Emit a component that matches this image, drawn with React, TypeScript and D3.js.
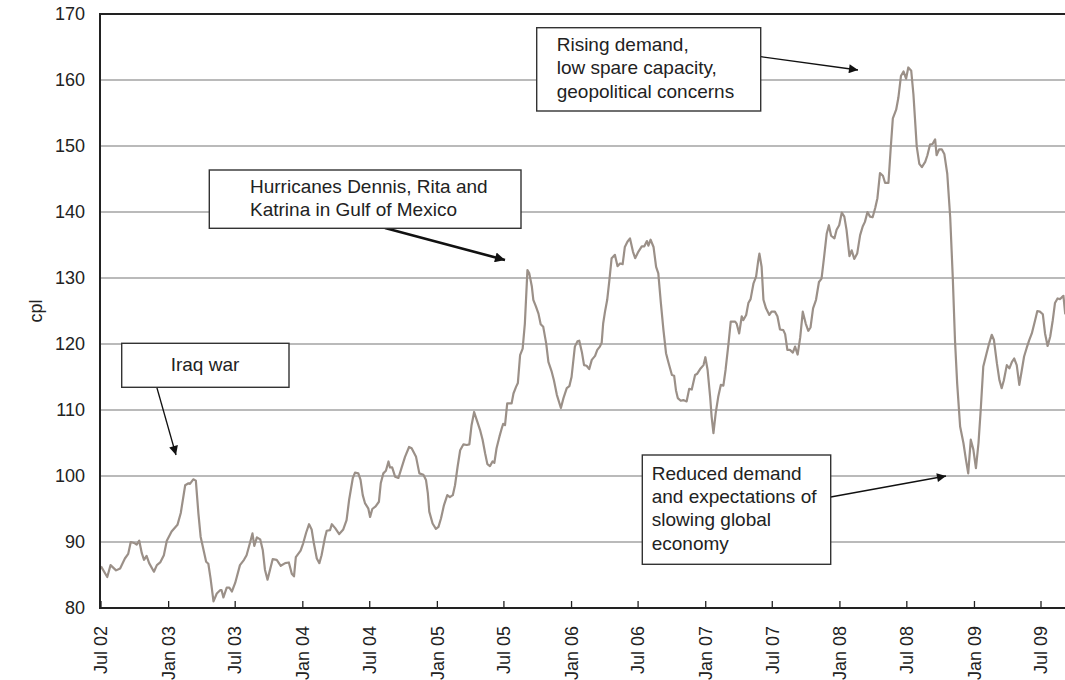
import React from "react";
import * as d3 from "d3";

// Weekly price series: [days since 1 Jul 2002, cents per litre]
const weeklyCpl: [number, number][] = [
  [0,86.3],[17,84.7],[26,86.5],[41,85.7],[52,86.0],[65,87.5],[74,88.2],[81,90.0],[92,89.8],[97,89.6],[104,90.2],[111,88.3],[117,87.3],[124,87.9],[131,86.8],[144,85.5],[152,86.5],[161,86.9],[171,88.0],[179,90.2],[192,91.6],[208,92.6],[217,94.4],[229,98.6],[238,98.9],[242,98.8],[251,99.5],[258,99.3],[265,94.3],[271,90.8],[286,87.0],[292,86.7],[298,84.5],[306,81.0],[315,82.2],[324,82.7],[328,82.7],[333,81.6],[342,83.1],[349,83.1],[356,82.5],[365,83.8],[378,86.5],[389,87.3],[396,88.0],[405,89.8],[412,91.3],[417,89.4],[424,90.7],[433,90.4],[440,88.8],[446,85.8],[453,84.3],[467,87.4],[478,87.3],[489,86.4],[501,86.8],[511,86.9],[519,85.2],[525,84.8],[530,87.7],[543,88.7],[550,89.8],[558,91.4],[566,92.7],[573,91.9],[579,89.8],[587,87.5],[594,86.8],[600,88.0],[609,90.6],[614,91.7],[623,91.8],[628,92.7],[637,92.1],[648,91.2],[659,91.9],[668,93.3],[675,96.4],[685,99.7],[691,100.5],[700,100.4],[706,99.4],[712,97.1],[718,95.9],[727,95.1],[732,93.8],[738,95.0],[747,95.4],[756,96.1],[761,98.9],[768,100.4],[775,100.8],[782,102.2],[786,101.3],[792,101.3],[800,99.9],[809,99.7],[818,101.3],[827,102.9],[838,104.4],[845,104.2],[857,102.9],[866,100.4],[877,100.2],[884,99.4],[889,97.4],[893,94.6],[902,92.8],[911,92.0],[918,92.3],[925,93.6],[933,95.6],[942,97.1],[949,96.8],[957,97.1],[963,98.6],[970,101.4],[977,103.9],[986,104.8],[995,104.7],[1002,104.8],[1008,107.7],[1015,109.7],[1022,108.5],[1031,107.0],[1038,105.5],[1045,103.4],[1051,101.8],[1058,101.5],[1065,102.2],[1070,102.0],[1076,104.2],[1084,106.0],[1090,107.2],[1094,107.9],[1099,107.7],[1105,111.0],[1117,111.0],[1122,112.5],[1129,113.5],[1134,114.1],[1140,118.3],[1147,119.3],[1153,123.1],[1160,131.2],[1165,130.7],[1172,128.7],[1176,126.7],[1183,125.7],[1190,124.6],[1196,123.0],[1203,122.6],[1211,120.1],[1217,117.3],[1226,115.8],[1232,114.5],[1240,112.3],[1251,110.3],[1258,111.8],[1267,113.3],[1274,113.6],[1280,115.0],[1289,119.6],[1296,120.4],[1301,120.5],[1308,118.8],[1314,116.8],[1321,116.7],[1328,116.2],[1335,117.6],[1344,118.2],[1350,119.1],[1357,119.6],[1362,120.2],[1366,123.1],[1371,124.9],[1377,126.7],[1383,129.7],[1389,133.0],[1398,133.5],[1405,131.8],[1412,132.2],[1419,132.1],[1425,134.7],[1432,135.5],[1439,136.0],[1447,134.0],[1453,133.0],[1462,134.0],[1471,134.8],[1478,134.8],[1485,135.6],[1489,134.9],[1495,135.8],[1503,134.7],[1510,131.7],[1516,130.7],[1523,126.2],[1530,122.1],[1537,118.6],[1543,117.3],[1553,115.3],[1559,115.2],[1564,113.0],[1569,111.8],[1577,111.4],[1584,111.5],[1593,111.3],[1600,113.2],[1607,113.1],[1616,115.3],[1622,115.5],[1631,116.3],[1639,116.8],[1644,118.0],[1650,116.1],[1657,112.0],[1661,109.0],[1666,106.5],[1672,109.5],[1679,112.0],[1686,113.8],[1693,113.7],[1699,116.1],[1707,120.1],[1713,123.4],[1725,123.4],[1729,123.1],[1736,121.6],[1743,124.2],[1747,123.6],[1755,124.4],[1761,126.2],[1767,126.8],[1775,129.2],[1782,130.2],[1788,132.7],[1791,133.7],[1797,131.7],[1802,126.7],[1809,125.4],[1818,124.4],[1824,124.9],[1833,124.9],[1840,124.2],[1847,122.2],[1856,122.1],[1861,121.5],[1867,119.1],[1874,119.1],[1882,118.7],[1888,119.6],[1895,118.4],[1902,121.0],[1909,124.9],[1917,123.1],[1924,122.0],[1930,122.5],[1937,125.4],[1945,126.7],[1953,129.4],[1960,129.9],[1967,133.2],[1974,136.7],[1980,138.0],[1986,136.4],[1995,136.0],[2001,137.3],[2008,138.0],[2015,139.9],[2022,139.3],[2028,137.3],[2036,133.3],[2042,134.2],[2049,132.9],[2057,133.7],[2065,136.5],[2072,137.8],[2078,138.5],[2085,140.0],[2092,139.3],[2099,139.2],[2106,140.6],[2112,142.1],[2119,145.9],[2127,145.5],[2133,144.4],[2142,144.4],[2148,149.5],[2154,154.2],[2163,155.5],[2169,157.3],[2176,160.6],[2183,161.3],[2190,160.2],[2196,161.9],[2204,161.4],[2210,157.8],[2214,154.3],[2219,149.9],[2226,147.3],[2233,146.8],[2242,147.6],[2248,148.6],[2255,150.2],[2262,150.3],[2269,151.0],[2273,148.6],[2280,149.5],[2287,149.5],[2294,148.8],[2302,145.8],[2310,139.2],[2317,130.1],[2323,120.6],[2329,114.0],[2337,107.5],[2346,105.0],[2353,102.4],[2359,100.4],[2366,105.5],[2373,104.0],[2380,101.2],[2387,105.0],[2393,110.0],[2400,116.6],[2409,118.6],[2416,120.1],[2423,121.4],[2429,120.6],[2437,117.1],[2444,114.5],[2450,113.3],[2456,114.5],[2464,116.8],[2471,116.3],[2478,117.3],[2484,117.8],[2491,116.8],[2498,113.8],[2505,116.1],[2511,118.1],[2518,119.4],[2525,120.6],[2532,121.6],[2541,123.6],[2547,125.0],[2554,124.9],[2562,124.5],[2568,121.6],[2575,119.7],[2582,121.1],[2589,123.6],[2595,126.2],[2602,126.9],[2609,126.8],[2614,127.1],[2618,127.3],[2623,124.5],
];

const yTickValues = [80, 90, 100, 110, 120, 130, 140, 150, 160, 170];
const xTickLabels = ["Jul 02","Jan 03","Jul 03","Jan 04","Jul 04","Jan 05","Jul 05","Jan 06","Jul 06","Jan 07","Jul 07","Jan 08","Jul 08","Jan 09","Jul 09"];
const yAxisTitle = "cpl";

const noteIraq = ["Iraq war"];
const noteHurricanes = ["Hurricanes Dennis, Rita and", "Katrina in Gulf of Mexico"];
const noteRising = ["Rising demand,", "low spare capacity,", "geopolitical concerns"];
const noteReduced = ["Reduced demand", "and expectations of", "slowing global", "economy"];

const FONT = "Arial, 'Liberation Sans', Helvetica, sans-serif";

export default function App() {
  const W = 1065, H = 680;
  const parse = d3.utcParse("%b %y");
  const base = Date.UTC(2002, 6, 1);
  const x = d3.scaleUtc().domain([parse("Jul 02")!, parse("Jul 09")!]).range([101, 1041]);
  const y = d3.scaleLinear().domain([80, 170]).range([608, 14]);
  const left = 100, right = 1066, top = y(170), bottom = y(80);

  const line = d3.line<[number, number]>()
    .x(d => x(new Date(base + d[0] * 86400000)))
    .y(d => y(d[1]));

  const tickDates = xTickLabels.map(l => parse(l)!);

  const box = (x0: number, y0: number, x1: number, y1: number, lines: string[], tx: number, ty0: number, dy: number, anchor: string = "start") => (
    <g>
      <rect x={x0} y={y0} width={x1 - x0} height={y1 - y0} fill="#fff" stroke="#333" strokeWidth={1.4} />
      {lines.map((t, i) => (
        <text key={i} x={tx} y={ty0 + i * dy} fontSize={19} fill="#222" textAnchor={anchor as any} fontFamily={FONT}>{t}</text>
      ))}
    </g>
  );

  return (
    <svg width={W} height={H} style={{ position: "absolute", left: 0, top: 0, background: "#fff" }} fontFamily={FONT}>
      <defs>
        <marker id="ah" viewBox="0 0 10 10" refX="10" refY="5" markerWidth="12" markerHeight="9" markerUnits="userSpaceOnUse" orient="auto">
          <path d="M0,0 L10,5 L0,10 z" fill="#111" />
        </marker>
        <marker id="ahBig" viewBox="0 0 10 10" refX="10" refY="5" markerWidth="14" markerHeight="10" markerUnits="userSpaceOnUse" orient="auto">
          <path d="M0,0 L10,5 L0,10 z" fill="#111" />
        </marker>
      </defs>
      <rect x={0} y={0} width={W} height={H} fill="#fff" />
      {yTickValues.filter(v => v > 80 && v < 170).map(v => (
        <line key={v} x1={left} x2={right} y1={y(v)} y2={y(v)} stroke="#a3a3a3" strokeWidth={1.3} />
      ))}
      <path d={line(weeklyCpl) || ""} fill="none" stroke="#9b9088" strokeWidth={2.2} strokeLinejoin="round" />
      <line x1={left} x2={right} y1={top} y2={top} stroke="#222" strokeWidth={2} />
      <line x1={left} x2={left} y1={top - 1} y2={bottom + 1} stroke="#222" strokeWidth={2} />
      <line x1={left - 1} x2={right} y1={bottom} y2={bottom} stroke="#222" strokeWidth={2} />
      {tickDates.map((d, i) => (
        <line key={i} x1={x(d)} x2={x(d)} y1={bottom} y2={bottom - 7} stroke="#222" strokeWidth={1.3} />
      ))}
      {yTickValues.map(v => (
        <text key={v} x={85} y={y(v)} dy="0.35em" textAnchor="end" fontSize={18} fill="#222">{v}</text>
      ))}
      {tickDates.map((d, i) => (
        <text key={i} transform={`translate(${x(d)},${626}) rotate(-90)`} dy="0.35em" textAnchor="end" fontSize={18} fill="#222">{xTickLabels[i]}</text>
      ))}
      <text transform={`translate(36,${(top + bottom) / 2}) rotate(-90)`} dy="0.35em" textAnchor="middle" fontSize={18} fill="#222">{yAxisTitle}</text>

      <line x1={156.7} y1={387} x2={176} y2={455} stroke="#111" strokeWidth={1.3} markerEnd="url(#ah)" />
      {box(121.7, 343.3, 289, 387.3, noteIraq, 205, 371, 23, "middle")}

      <line x1={385} y1={228} x2={505} y2={260} stroke="#111" strokeWidth={2.6} markerEnd="url(#ahBig)" />
      {box(209.3, 170, 521, 228.3, noteHurricanes, 250, 193, 22.5)}

      <line x1={760.7} y1={56.7} x2={858} y2={70} stroke="#111" strokeWidth={1.3} markerEnd="url(#ah)" />
      {box(536.7, 27.7, 760.7, 111, noteRising, 556.7, 50.5, 23.8)}

      <line x1={830.7} y1={497} x2={946} y2={476} stroke="#111" strokeWidth={1.3} markerEnd="url(#ah)" />
      {box(642.3, 455, 830.7, 564.3, noteReduced, 651.7, 480, 23.2)}
    </svg>
  );
}
